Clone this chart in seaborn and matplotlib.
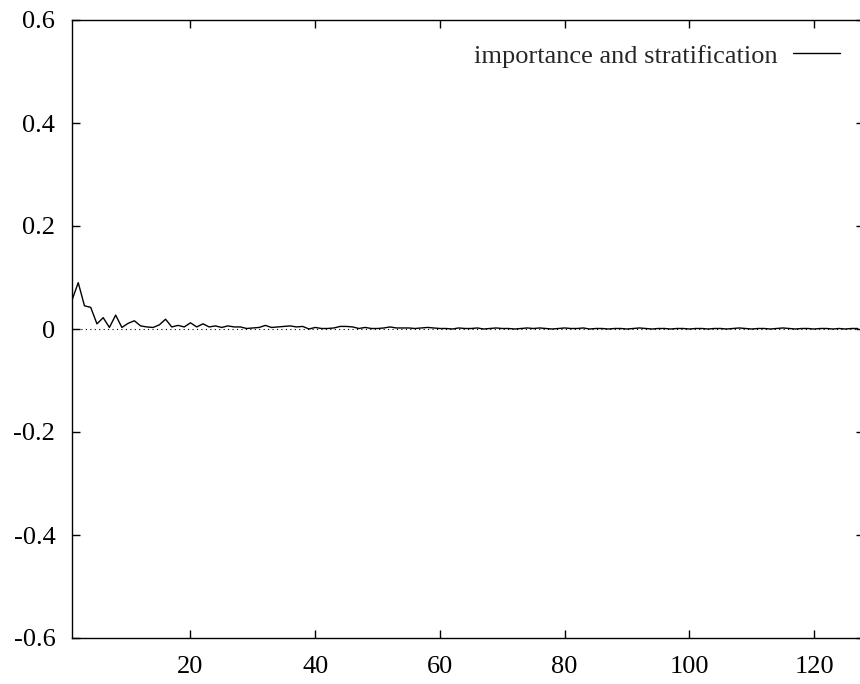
import matplotlib
matplotlib.use("Agg")
import matplotlib.pyplot as plt
import seaborn as sns
import pandas as pd

sns.set_style("ticks")
plt.rcParams['font.family'] = ['Liberation Serif', 'DejaVu Serif']

series_label = "importance and stratification"
x_vals = list(range(1, 128))
y_vals = [
    0.056, 0.090, 0.045, 0.042, 0.010, 0.022, 0.003, 0.027, 0.003, 0.011,
    0.016, 0.006, 0.004, 0.003, 0.008, 0.019, 0.004, 0.007, 0.004, 0.012,
    0.004, 0.010, 0.004, 0.006, 0.003, 0.006, 0.004, 0.004, 0.001, 0.002,
    0.003, 0.007, 0.003, 0.004, 0.005, 0.006, 0.004, 0.005, 0.000, 0.003,
    0.001, 0.001, 0.002, 0.005, 0.005, 0.004, 0.001, 0.003, 0.001, 0.001,
    0.002, 0.004, 0.002, 0.002, 0.002, 0.001, 0.002, 0.003, 0.002, 0.001,
    0.001, 0.000, 0.002, 0.001, 0.001, 0.002, 0.000, 0.001, 0.002, 0.001,
    0.001, 0.000, 0.001, 0.002, 0.001, 0.002, 0.001, 0.000, 0.001, 0.002,
    0.001, 0.001, 0.002, 0.000, 0.001, 0.001, 0.000, 0.001, 0.001, 0.000,
    0.001, 0.002, 0.001, 0.000, 0.001, 0.001, 0.000, 0.001, 0.001, 0.000,
    0.001, 0.001, 0.000, 0.001, 0.001, 0.000, 0.001, 0.002, 0.001, 0.000,
    0.001, 0.001, 0.000, 0.001, 0.002, 0.001, 0.000, 0.001, 0.001, 0.000,
    0.001, 0.001, 0.000, 0.001, 0.000, 0.001, 0.001,
]
x_ticks = [20, 40, 60, 80, 100, 120]
y_ticks = [-0.6, -0.4, -0.2, 0.0, 0.2, 0.4, 0.6]
y_tick_labels = ["-0.6", "-0.4", "-0.2", "0", "0.2", "0.4", "0.6"]

df = pd.DataFrame({"x": x_vals, "y": y_vals, "series": series_label})

fig = plt.figure(figsize=(8.6, 6.84), dpi=100)
ax = fig.add_axes([72/860, 1-638/684, (864-72)/860, (638-20)/684])

ax.axhline(0, color="black", lw=0.8, ls=(0, (1, 3)), zorder=1)
sns.lineplot(data=df, x="x", y="y", hue="series", palette=["black"],
             linewidth=1.0, ax=ax, legend=True, zorder=2)

ax.set_xlim(1, 128)
ax.set_ylim(-0.6, 0.6)
ax.set_xticks(x_ticks)
ax.set_yticks(y_ticks)
ax.set_yticklabels(y_tick_labels)
ax.set_xlabel("")
ax.set_ylabel("")
for s in ax.spines.values():
    s.set_visible(True)
    s.set_linewidth(1.0)
    s.set_color("black")
ax.tick_params(direction="in", length=6, width=1.0, top=True, right=True,
               labelsize=19, colors="black")
ax.tick_params(axis="y", pad=12)
ax.tick_params(axis="x", pad=13)

handles, labels = ax.get_legend_handles_labels()
ax.legend(handles, labels, loc="center right",
          bbox_to_anchor=(840/860, 1-56/684), bbox_transform=fig.transFigure,
          frameon=False, markerfirst=False, fontsize=19, handlelength=1.78,
          handletextpad=0.6, borderpad=0, borderaxespad=0)

fig.savefig("out.png", dpi=100)
